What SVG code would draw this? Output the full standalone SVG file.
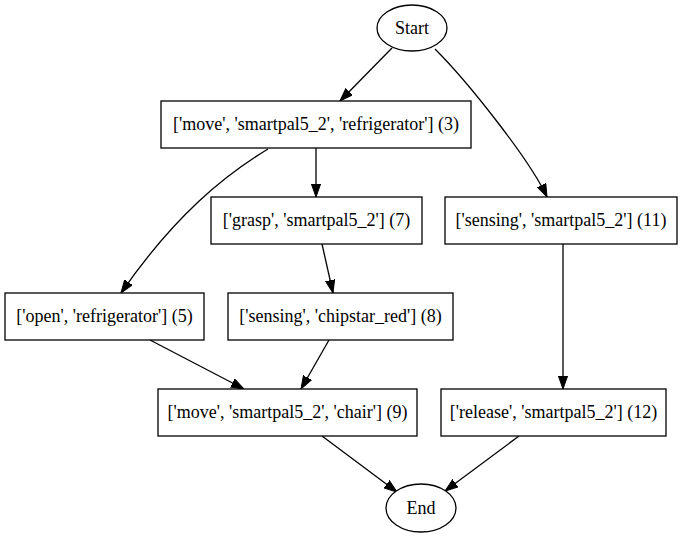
<svg xmlns="http://www.w3.org/2000/svg" width="686" height="539" viewBox="0 0 686 539">
<style>
.n{fill:#fff;stroke:#000;stroke-width:1.3}
.t{font-family:"Liberation Serif","Times New Roman",serif;font-size:18px;fill:#000;text-anchor:middle}
.e{fill:none;stroke:#000;stroke-width:1.3}
</style>
<defs>
<marker id="ah" viewBox="0 0 13 10" refX="13" refY="5" markerWidth="13" markerHeight="10" markerUnits="userSpaceOnUse" orient="auto">
<path d="M0,0.4 L13,5 L0,9.6 z" fill="#000" stroke="#000" stroke-width="1"/>
</marker>
</defs>
<rect width="686" height="539" fill="#fff"/>
<g id="edges">
<path class="e" marker-end="url(#ah)" d="M392,48 L340,101"/>
<path class="e" marker-end="url(#ah)" d="M435,49 C468,82 530,160 547,197"/>
<path class="e" marker-end="url(#ah)" d="M268,149 C225,175 175,215 121,293"/>
<path class="e" marker-end="url(#ah)" d="M316,148 L316,197"/>
<path class="e" marker-end="url(#ah)" d="M322,244 L333,293"/>
<path class="e" marker-end="url(#ah)" d="M563,244 L563,389"/>
<path class="e" marker-end="url(#ah)" d="M150,340 L244,389"/>
<path class="e" marker-end="url(#ah)" d="M329,340 L301,389"/>
<path class="e" marker-end="url(#ah)" d="M322,436 L397,492"/>
<path class="e" marker-end="url(#ah)" d="M519,436 L445,491"/>
</g>
<g id="start"><ellipse class="n" cx="412" cy="28" rx="35" ry="23"/><text class="t" x="412" y="34">Start</text></g>
<g id="n3"><rect class="n" x="161" y="101" width="310" height="47"/><text class="t" x="316" y="130">['move', 'smartpal5_2', 'refrigerator'] (3)</text></g>
<g id="n7"><rect class="n" x="211" y="197" width="211" height="47"/><text class="t" x="316.5" y="226">['grasp', 'smartpal5_2'] (7)</text></g>
<g id="n11"><rect class="n" x="445" y="197" width="232" height="47"/><text class="t" x="561" y="226">['sensing', 'smartpal5_2'] (11)</text></g>
<g id="n5"><rect class="n" x="5" y="293" width="199" height="47"/><text class="t" x="104.5" y="322">['open', 'refrigerator'] (5)</text></g>
<g id="n8"><rect class="n" x="228" y="293" width="225" height="47"/><text class="t" x="340.5" y="322">['sensing', 'chipstar_red'] (8)</text></g>
<g id="n9"><rect class="n" x="158" y="389" width="259" height="47"/><text class="t" x="287.5" y="418">['move', 'smartpal5_2', 'chair'] (9)</text></g>
<g id="n12"><rect class="n" x="441" y="389" width="225" height="47"/><text class="t" x="553.5" y="418">['release', 'smartpal5_2'] (12)</text></g>
<g id="end"><ellipse class="n" cx="421" cy="508" rx="35" ry="24"/><text class="t" x="421" y="514">End</text></g>
</svg>
